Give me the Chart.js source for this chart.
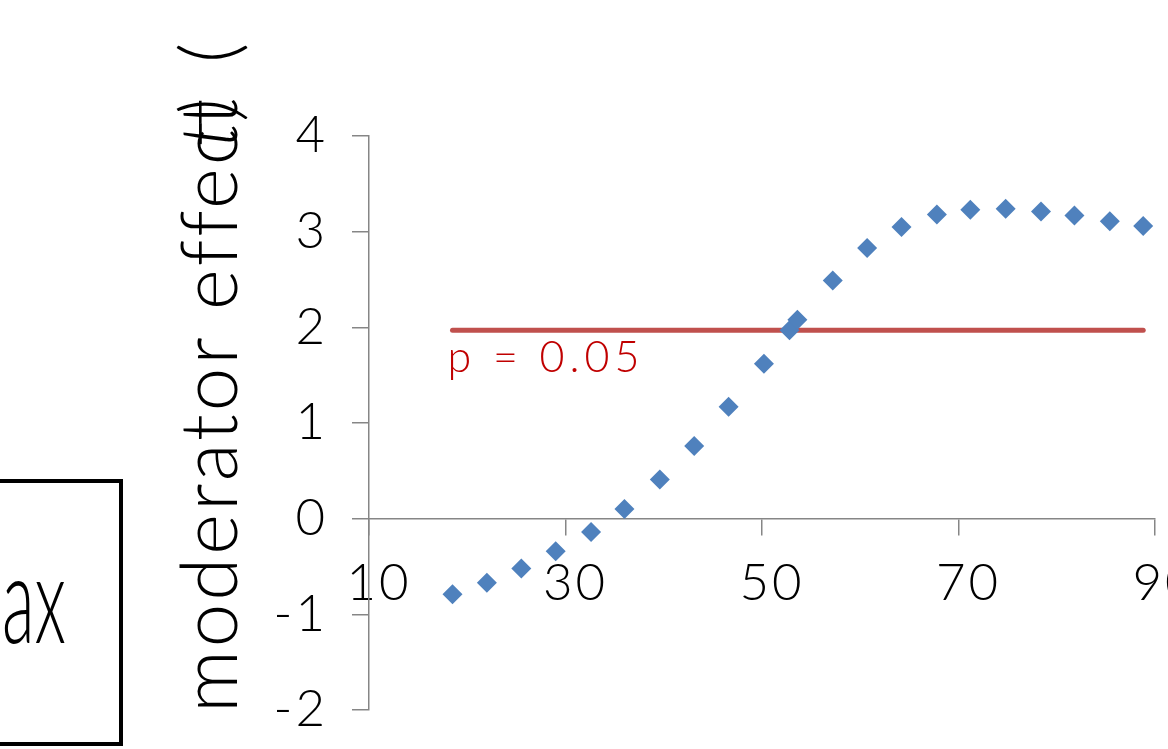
<!DOCTYPE html>
<html>
<head>
<meta charset="utf-8">
<title>moderator effect</title>
<script src="https://cdn.jsdelivr.net/npm/chart.js@4.4.1/dist/chart.umd.min.js"></script>
<style>
    html, body { margin: 0; padding: 0; background: #fff; overflow: hidden; }
    #wrap { width: 1168px; height: 749px; overflow: hidden; position: relative; }
    canvas { display: block; }
</style>
</head>
<body>
<div id="wrap"><canvas id="chart" width="1240" height="749"></canvas></div>
<script>
// moderator value (x) and t statistic of the effect (y)
const xValues = [18.5, 22.0, 25.5, 29.0, 32.6, 36.0, 39.6, 43.1, 46.6, 50.2, 52.8, 53.6, 57.2, 60.7, 64.2, 67.8, 71.2, 74.8, 78.4, 81.8, 85.4, 88.8];
const tValues = [-0.79, -0.67, -0.52, -0.34, -0.14, 0.10, 0.41, 0.76, 1.17, 1.62, 1.97, 2.08, 2.49, 2.83, 3.05, 3.18, 3.23, 3.24, 3.21, 3.17, 3.11, 3.06];

// critical t line
const critX = [18.5, 88.8];
const critT = [1.97, 1.97];
const critLabel = 'p = 0.05';

// axis ticks
const xTicks = [10, 30, 50, 70, 90];
const yTicks = [-2, -1, 0, 1, 2, 3, 4];

const yTitle = 'moderator effect';
const boxText = 'ax';

const FONT = 'Lato';
const GREY = '#868686';

// wider spacing like the original font, applies to the tick labels
const spacing = {
    id: 'spacing',
    beforeDraw(chart) { chart.ctx.letterSpacing = '3px'; }
};

// draws the axis title, the p label and the cut-off text box
const extras = {
    id: 'extras',
    afterDraw(chart) {
        const ctx = chart.ctx;
        const xs = chart.scales.x, ys = chart.scales.y;

        ctx.save();
        ctx.letterSpacing = '5px';
        ctx.fillStyle = '#C00000';
        ctx.font = '300 43px ' + FONT;
        ctx.textAlign = 'left';
        ctx.textBaseline = 'alphabetic';
        ctx.fillText(critLabel, xs.getPixelForValue(18.0), ys.getPixelForValue(1.53));
        ctx.restore();

        // rotated y title, with the odd overlapping "(t)" of the original
        ctx.save();
        ctx.letterSpacing = '3px';
        ctx.fillStyle = '#000';
        ctx.translate(237, 713);
        ctx.rotate(-Math.PI / 2);
        ctx.font = '300 78px ' + FONT;
        ctx.textBaseline = 'alphabetic';
        ctx.fillText(yTitle, 0, 0);
        const w = ctx.measureText(yTitle.slice(0, -1)).width;
        ctx.fillText('(', 650, 0);
        ctx.font = 'italic 300 78px ' + FONT;
        ctx.fillText('t)', w - 22, 0);
        ctx.restore();

        // box on the left, mostly outside the picture
        ctx.save();
        ctx.letterSpacing = '0px';
        ctx.strokeStyle = '#000';
        ctx.lineWidth = 4;
        ctx.strokeRect(-20, 481, 141, 263);
        ctx.fillStyle = '#000';
        ctx.translate(66, 643);
        ctx.scale(0.55, 1);
        ctx.font = '300 122px ' + FONT;
        ctx.textAlign = 'right';
        ctx.fillText(boxText, 0, 0);
        ctx.restore();
    }
};

const points = xValues.map((x, i) => ({ x: x, y: tValues[i] }));
const critLine = critX.map((x, i) => ({ x: x, y: critT[i] }));

new Chart(document.getElementById('chart'), {
    type: 'scatter',
    data: {
        datasets: [{
            data: points,
            pointStyle: 'rectRot',
            pointRadius: 10,
            pointHoverRadius: 10,
            backgroundColor: '#4F81BD',
            borderWidth: 0
        }, {
            data: critLine,
            showLine: true,
            borderColor: '#C0504D',
            borderWidth: 5,
            borderCapStyle: 'round',
            pointRadius: 0,
            fill: false
        }]
    },
    options: {
        responsive: false,
        animation: false,
        devicePixelRatio: 1,
        layout: { padding: { left: 0, top: 136, right: 85, bottom: 39 } },
        plugins: { legend: { display: false }, tooltip: { enabled: false } },
        scales: {
            x: {
                type: 'linear',
                min: 10,
                max: 90,
                position: { y: 0 },
                afterBuildTicks: s => { s.ticks = xTicks.map(v => ({ value: v })); },
                afterFit: s => {
                    s.paddingLeft = 0; s.paddingRight = 0;
                    s.paddingTop = 0; s.paddingBottom = 0;
                },
                grid: { drawOnChartArea: false, drawTicks: true, tickLength: 16, color: GREY, lineWidth: 1.5 },
                border: { display: true, color: GREY, width: 1.5 },
                ticks: {
                    color: '#000',
                    font: { family: FONT, size: 51, weight: 300 },
                    padding: 18,
                    labelOffset: 10,
                    maxRotation: 0,
                    autoSkip: false
                }
            },
            y: {
                type: 'linear',
                min: -2,
                max: 4,
                position: 'left',
                afterBuildTicks: s => { s.ticks = yTicks.map(v => ({ value: v })); },
                afterFit: s => {
                    s.width = 369;
                    s.paddingTop = 0; s.paddingBottom = 0;
                },
                grid: { drawOnChartArea: false, drawTicks: true, tickLength: 17, color: GREY, lineWidth: 1.5 },
                border: { display: true, color: GREY, width: 1.5 },
                ticks: {
                    color: '#000',
                    font: { family: FONT, size: 51, weight: 300 },
                    padding: 24
                }
            }
        }
    },
    plugins: [spacing, extras]
});
</script>
</body>
</html>
